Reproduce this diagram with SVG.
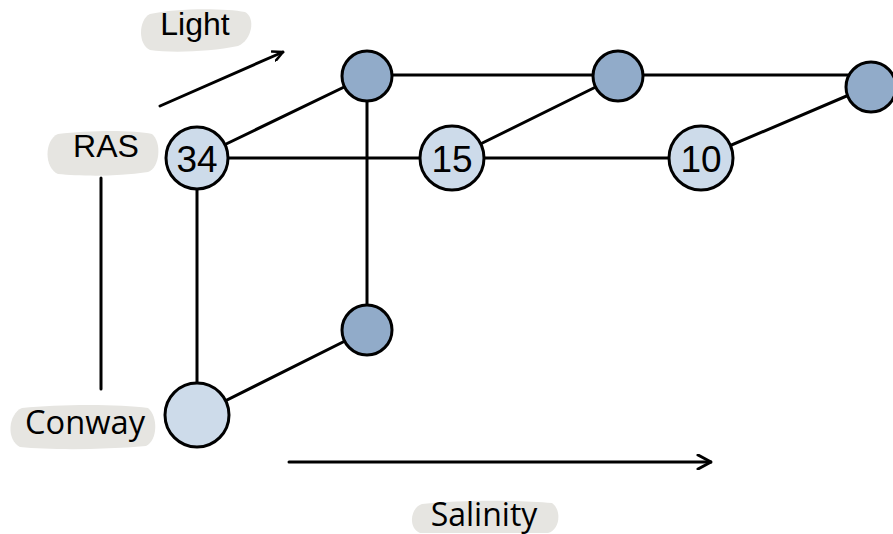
<svg xmlns="http://www.w3.org/2000/svg" width="893" height="534" viewBox="0 0 893 534">
  <style>
    .edge { stroke: #000; stroke-width: 3; fill: none; stroke-linecap: round; }
    .axis { stroke: #000; stroke-width: 3; fill: none; stroke-linecap: round; }
    .light { fill: #cddbea; stroke: #000; stroke-width: 3; }
    .dark { fill: #91abc9; stroke: #000; stroke-width: 3; }
    .num { font-family: "Liberation Sans", Arial, sans-serif; font-size: 37px; fill: #000; text-anchor: middle; }
    .tag { fill: #e6e5e1; }
    .lbl { font-family: "Liberation Sans", Arial, sans-serif; font-size: 32px; fill: #000; text-anchor: middle; }
    .lbl2 { font-family: "Open Sans", "Liberation Sans", sans-serif; font-size: 32px; fill: #000; text-anchor: middle; }
  </style>
  <defs>
    <marker id="open" viewBox="0 0 12 12" refX="11" refY="6" markerWidth="12" markerHeight="12" markerUnits="userSpaceOnUse" orient="auto">
      <path d="M1,1 L11,6 L1,11" fill="none" stroke="#000" stroke-width="2.5" stroke-linecap="round" stroke-linejoin="round"/>
    </marker>
    <marker id="openL" viewBox="0 0 16 16" refX="15" refY="8" markerWidth="16" markerHeight="16" markerUnits="userSpaceOnUse" orient="auto">
      <path d="M2,1 L15,8 L2,15" fill="none" stroke="#000" stroke-width="3" stroke-linecap="round" stroke-linejoin="round"/>
    </marker>
  </defs>

  <!-- axis labels with soft highlight tags -->
  <g id="label-light">
    <path class="tag" d="M150,14 C175,8 225,8 245,12 C256,18 252,40 238,46 C210,52 170,53 150,50 C138,45 138,20 150,14 Z"/>
    <text class="lbl" x="195" y="35">Light</text>
  </g>
  <g id="label-ras">
    <path class="tag" d="M58,134 C90,130 135,130 152,134 C162,142 160,168 148,172 C115,177 80,176 58,174 C44,168 44,140 58,134 Z"/>
    <text class="lbl" x="106" y="157">RAS</text>
  </g>
  <g id="label-conway">
    <path class="tag" d="M22,408 C60,404 120,404 148,408 C158,416 158,440 146,446 C100,450 50,450 20,447 C6,440 8,414 22,408 Z"/>
    <text class="lbl2" x="85" y="434" textLength="120" lengthAdjust="spacingAndGlyphs">Conway</text>
  </g>
  <g id="label-salinity">
    <path class="tag" d="M422,504 C460,500 520,500 552,503 C562,510 560,530 548,533 L420,533 C408,528 410,508 422,504 Z"/>
    <text class="lbl2" x="484" y="526">Salinity</text>
  </g>

  <!-- axes -->
  <g id="axes">
    <line class="axis" x1="160" y1="106" x2="283" y2="52" marker-end="url(#open)"/>
    <line class="axis" x1="101" y1="178" x2="101" y2="389"/>
    <line class="axis" x1="289" y1="462" x2="711" y2="462" marker-end="url(#openL)"/>
  </g>

  <!-- connectors -->
  <g id="connectors">
    <line class="edge" x1="197" y1="158" x2="701" y2="158"/>
    <line class="edge" x1="367" y1="75" x2="870" y2="75"/>
    <line class="edge" x1="197" y1="158" x2="367" y2="76"/>
    <line class="edge" x1="452" y1="158" x2="618" y2="76"/>
    <line class="edge" x1="701" y1="158" x2="870" y2="86"/>
    <line class="edge" x1="367" y1="76" x2="367" y2="330"/>
    <line class="edge" x1="197" y1="158" x2="197" y2="415"/>
    <line class="edge" x1="197" y1="415" x2="367" y2="330"/>
  </g>

  <!-- nodes -->
  <g id="n-34">
    <circle class="light" cx="197" cy="158" r="31"/>
    <text class="num" x="197" y="172">34</text>
  </g>
  <g id="n-15">
    <circle class="light" cx="452" cy="158" r="32"/>
    <text class="num" x="452" y="172">15</text>
  </g>
  <g id="n-10">
    <circle class="light" cx="701" cy="158" r="32"/>
    <text class="num" x="701" y="172">10</text>
  </g>
  <g id="n-conway">
    <circle class="light" cx="197" cy="415" r="32"/>
  </g>
  <g id="n-top1">
    <circle class="dark" cx="367" cy="76" r="25"/>
  </g>
  <g id="n-top2">
    <circle class="dark" cx="618" cy="76" r="25"/>
  </g>
  <g id="n-top3">
    <circle class="dark" cx="871" cy="87" r="25"/>
  </g>
  <g id="n-low">
    <circle class="dark" cx="367" cy="330" r="25"/>
  </g>
</svg>
